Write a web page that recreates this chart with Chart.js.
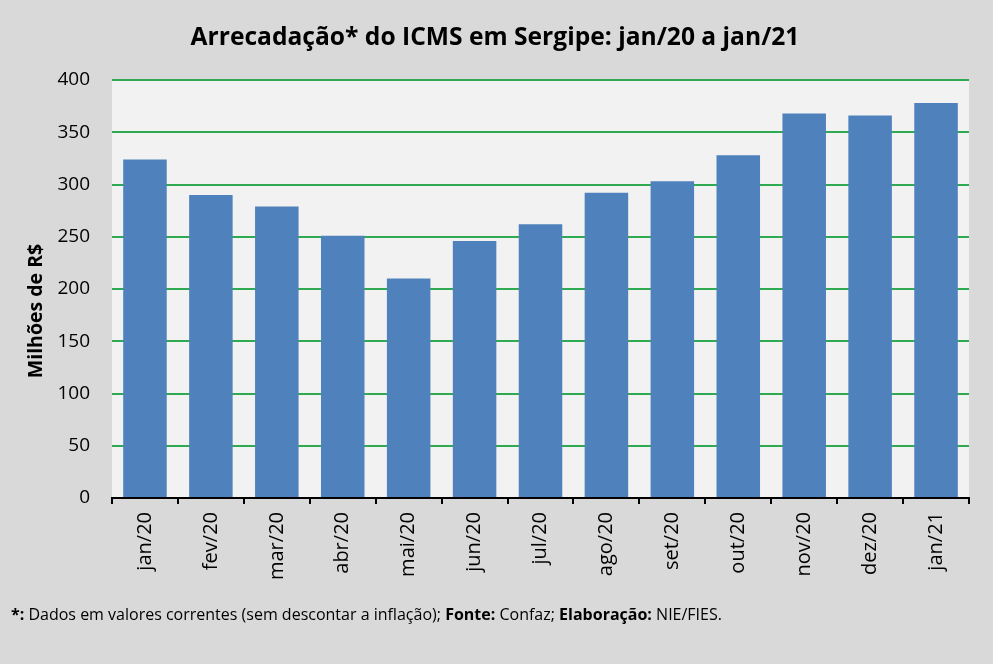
<!DOCTYPE html>
<html><head><meta charset="utf-8">
<script src="https://cdn.jsdelivr.net/npm/chart.js@4/dist/chart.umd.min.js"></script>
<style>html,body{margin:0;padding:0;background:#d9d9d9;}#wrap{width:993px;height:664px;}</style>
</head><body><div id="wrap"><canvas id="c" width="993" height="664"></canvas></div>
<script>
const categories = ["jan/20","fev/20","mar/20","abr/20","mai/20","jun/20","jul/20","ago/20","set/20","out/20","nov/20","dez/20","jan/21"];
const icmsValues = [324, 290, 279, 251, 210, 246, 262, 292, 303, 328, 368, 366, 378];
const yTicks = [0, 50, 100, 150, 200, 250, 300, 350, 400];
const chartTitle = "Arrecadação* do ICMS em Sergipe: jan/20 a jan/21";
const yTitle = "Milhões de R$";
const footnoteParts = [["*: ", true], ["Dados em valores correntes (sem descontar a inflação); ", false], ["Fonte: ", true], ["Confaz; ", false], ["Elaboração: ", true], ["NIE/FIES.", false]];

const decor = {
  id: 'decor',
  beforeDraw(chart) {
    const {ctx, chartArea: a} = chart;
    ctx.save();
    ctx.fillStyle = '#d9d9d9';
    ctx.fillRect(0, 0, chart.width, chart.height);
    ctx.fillStyle = '#f2f2f2';
    ctx.fillRect(a.left, a.top, a.right - a.left, a.bottom - a.top);
    ctx.restore();
  },
  afterDraw(chart) {
    const {ctx} = chart;
    ctx.save();
    ctx.fillStyle = '#000';
    ctx.textAlign = 'center';
    ctx.textBaseline = 'middle';
    ctx.font = 'bold 24.6px "Open Sans"';
    ctx.fillText(chartTitle, 495, 38);
    ctx.save();
    ctx.translate(36, 311);
    ctx.rotate(-Math.PI / 2);
    ctx.font = 'bold 19.5px "Open Sans"';
    ctx.fillText(yTitle, 0, 0);
    ctx.restore();
    ctx.textAlign = 'left';
    let x = 11;
    for (const [t, b] of footnoteParts) {
      ctx.font = (b ? 'bold ' : '') + '16px "Open Sans"';
      ctx.fillText(t, x, 615);
      x += ctx.measureText(t).width;
    }
    ctx.restore();
  }
};

new Chart(document.getElementById('c'), {
  type: 'bar',
  data: { labels: categories, datasets: [{ data: icmsValues, backgroundColor: '#4f81bd', barPercentage: 0.66, categoryPercentage: 1 }] },
  options: {
    responsive: false, animation: false, devicePixelRatio: 1,
    layout: { padding: { top: 80, right: 24, left: 0, bottom: 0 } },
    plugins: { legend: { display: false }, title: { display: false }, tooltip: { enabled: false } },
    scales: {
      x: {
        afterFit(s) { s.height = 166; },
        grid: { drawOnChartArea: false, drawTicks: true, tickLength: 6, color: '#000', lineWidth: 2 },
        border: { display: true, color: '#000', width: 2 },
        ticks: { minRotation: 90, maxRotation: 90, padding: 8, color: '#000', font: { family: 'Open Sans', size: 20 } }
      },
      y: {
        min: 0, max: 400,
        afterFit(s) { s.width = 112; },
        afterBuildTicks(s) { s.ticks = yTicks.map(v => ({ value: v })); },
        grid: { color: c => c.tick && c.tick.value === 0 ? 'rgba(0,0,0,0)' : '#2faa52', lineWidth: 2, drawTicks: false },
        border: { display: false },
        ticks: { padding: 22, color: '#000', font: { family: 'Open Sans', size: 19 } }
      }
    }
  },
  plugins: [decor]
});
</script></body></html>
